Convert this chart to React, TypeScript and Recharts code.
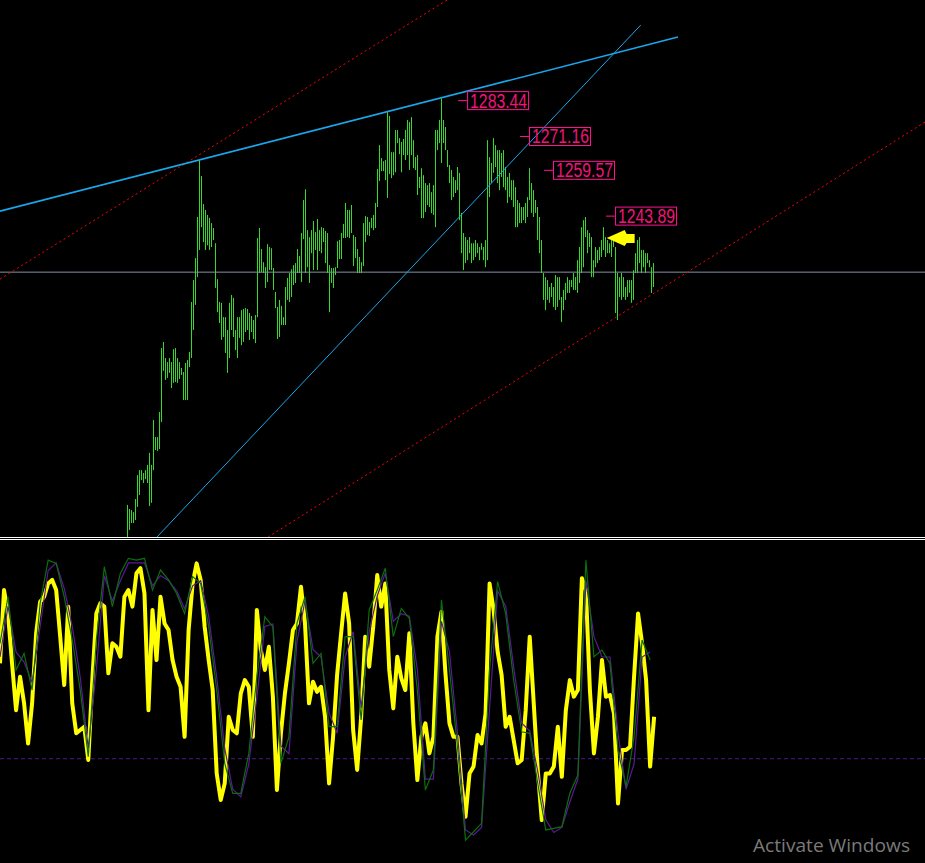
import React from 'react';
import {
  ComposedChart,
  Bar,
  Line,
  XAxis,
  YAxis,
  ReferenceLine,
  ReferenceDot,
} from 'recharts';

// bar slots across the window, one every ~2px
const SLOTS = 462;
const FIRST_BAR = 63;

// price bars (high / low), from slot 63 on
const HIGHS = [
  1145.0, 1143.6, 1143.2, 1142.5, 1147.0, 1155.2, 1156.9, 1156.9, 1155.9, 1156.9,
  1158.7, 1162.8, 1158.7, 1174.1, 1168.2, 1168.2, 1176.8, 1198.7, 1200.8, 1195.3,
  1193.9, 1195.3, 1193.9, 1198.3, 1198.7, 1195.3, 1193.9, 1191.9, 1190.5, 1193.6,
  1194.6, 1197.4, 1214.5, 1222.0, 1229.5, 1243.6, 1263.1, 1257.6, 1248.0, 1246.0,
  1244.3, 1243.3, 1241.5, 1239.8, 1234.6, 1222.3, 1214.5, 1214.2, 1209.3, 1209.3,
  1204.9, 1214.2, 1216.9, 1215.9, 1204.9, 1209.3, 1209.3, 1211.7, 1212.1, 1212.4,
  1212.1, 1210.7, 1209.7, 1208.3, 1210.0, 1236.4, 1239.8, 1232.6, 1228.1, 1226.4,
  1234.3, 1233.3, 1232.9, 1226.1, 1217.9, 1212.8, 1215.2, 1213.1, 1209.3, 1219.6,
  1222.7, 1224.4, 1225.7, 1227.1, 1227.8, 1232.6, 1230.2, 1238.1, 1249.4, 1253.1,
  1239.1, 1236.7, 1239.1, 1242.2, 1238.4, 1242.9, 1239.1, 1240.1, 1239.8, 1238.8,
  1238.1, 1227.1, 1226.1, 1226.1, 1226.4, 1235.3, 1235.7, 1238.1, 1241.2, 1248.4,
  1246.0, 1246.0, 1247.7, 1237.4, 1236.7, 1232.6, 1229.9, 1228.1, 1241.5, 1243.9,
  1243.6, 1241.9, 1243.3, 1244.3, 1248.4, 1260.0, 1268.2, 1263.8, 1262.7, 1263.1,
  1279.5, 1278.2, 1265.8, 1265.8, 1273.4, 1273.4, 1270.6, 1269.3, 1270.3, 1273.4,
  1276.8, 1276.1, 1277.8, 1269.9, 1264.1, 1264.8, 1257.3, 1260.3, 1257.9, 1255.2,
  1254.5, 1255.2, 1252.1, 1254.5, 1273.4, 1273.4, 1276.8, 1284.2, 1276.8, 1274.4,
  1266.5, 1261.4, 1259.7, 1257.3, 1256.2, 1260.7, 1258.7, 1245.0, 1238.1, 1236.7,
  1235.7, 1236.7, 1234.6, 1234.6, 1235.7, 1234.6, 1233.3, 1234.6, 1233.3, 1235.7,
  1269.9, 1264.1, 1262.1, 1270.6, 1268.2, 1266.5, 1266.5, 1265.5, 1266.5, 1260.7,
  1257.3, 1258.7, 1256.2, 1256.2, 1253.8, 1249.4, 1248.4, 1247.0, 1247.0, 1248.4,
  1250.4, 1260.3, 1255.2, 1252.8, 1249.4, 1247.0, 1243.6, 1235.7, 1224.4, 1223.0,
  1222.0, 1219.6, 1221.0, 1219.6, 1223.7, 1223.0, 1223.0, 1216.2, 1218.6, 1221.0,
  1223.0, 1222.0, 1222.0, 1224.4, 1223.0, 1228.8, 1233.3, 1240.1, 1242.5, 1243.6,
  1239.1, 1238.1, 1236.7, 1228.8, 1233.3, 1232.3, 1233.3, 1235.7, 1240.1, 1236.7,
  1235.7, 1234.6, 1235.7, 1236.7, 1233.3, 1224.4, 1223.0, 1224.4, 1223.0, 1219.6,
  1222.0, 1222.0, 1222.0, 1225.4, 1231.2, 1235.7, 1236.7, 1232.3, 1232.3, 1231.2,
  1231.2, 1228.8, 1226.4, 1227.8,
];

const LOWS = [
  1131.3, 1136.4, 1138.8, 1138.8, 1139.8, 1144.3, 1148.4, 1153.5, 1152.5, 1153.8,
  1152.5, 1144.6, 1145.7, 1156.9, 1163.8, 1163.5, 1164.1, 1173.4, 1190.9, 1187.8,
  1188.5, 1190.2, 1185.0, 1186.8, 1187.1, 1186.8, 1188.1, 1189.5, 1180.9, 1180.9,
  1180.9, 1192.2, 1195.3, 1204.9, 1213.5, 1223.0, 1232.3, 1240.1, 1235.0, 1232.3,
  1233.9, 1232.3, 1233.3, 1235.7, 1219.3, 1211.0, 1207.3, 1201.5, 1202.5, 1197.0,
  1190.2, 1195.3, 1204.9, 1202.5, 1198.0, 1195.3, 1202.2, 1199.7, 1200.8, 1204.2,
  1204.9, 1201.5, 1204.2, 1201.8, 1200.4, 1209.3, 1224.4, 1224.7, 1224.4, 1219.3,
  1221.3, 1225.4, 1225.4, 1218.6, 1212.4, 1201.8, 1202.5, 1206.6, 1206.6, 1206.6,
  1215.2, 1214.5, 1216.2, 1220.3, 1221.0, 1224.4, 1224.4, 1221.3, 1236.0, 1224.4,
  1226.4, 1221.0, 1231.2, 1225.4, 1232.3, 1225.4, 1231.9, 1231.2, 1235.0, 1227.8,
  1224.4, 1211.0, 1221.0, 1219.3, 1223.7, 1226.1, 1229.2, 1229.2, 1236.4, 1236.4,
  1236.7, 1236.4, 1238.1, 1226.8, 1229.5, 1224.4, 1224.4, 1224.4, 1226.8, 1235.0,
  1237.4, 1237.1, 1239.8, 1239.1, 1239.8, 1247.0, 1255.9, 1259.3, 1259.3, 1256.2,
  1250.1, 1258.3, 1256.9, 1257.9, 1258.9, 1268.9, 1265.1, 1258.9, 1264.8, 1263.1,
  1264.8, 1259.7, 1264.8, 1260.3, 1259.7, 1251.1, 1253.5, 1243.2, 1243.2, 1245.3,
  1247.7, 1247.0, 1244.9, 1244.3, 1240.1, 1266.5, 1268.9, 1262.1, 1268.9, 1266.5,
  1260.7, 1255.2, 1249.4, 1250.4, 1251.8, 1252.8, 1242.5, 1231.2, 1225.4, 1227.8,
  1228.8, 1231.2, 1227.8, 1228.8, 1229.9, 1231.2, 1228.8, 1232.3, 1228.8, 1226.4,
  1228.8, 1250.4, 1255.2, 1258.7, 1260.7, 1255.2, 1252.8, 1257.3, 1253.8, 1252.8,
  1248.4, 1250.4, 1249.4, 1247.0, 1240.1, 1240.1, 1241.5, 1241.5, 1242.5, 1241.5,
  1243.6, 1249.4, 1245.0, 1243.6, 1245.0, 1235.7, 1231.2, 1224.4, 1215.2, 1211.7,
  1215.2, 1214.2, 1216.2, 1212.8, 1211.7, 1212.8, 1215.2, 1207.6, 1211.7, 1215.2,
  1217.6, 1217.6, 1219.6, 1218.6, 1218.6, 1217.6, 1221.0, 1224.4, 1226.4, 1236.7,
  1231.2, 1233.3, 1223.0, 1223.0, 1226.4, 1227.8, 1228.8, 1229.9, 1232.3, 1229.9,
  1231.2, 1231.2, 1229.9, 1233.3, 1210.7, 1208.3, 1216.2, 1215.2, 1216.2, 1215.2,
  1216.2, 1217.6, 1214.2, 1215.2, 1224.4, 1224.4, 1227.8, 1224.4, 1226.4, 1224.4,
  1227.8, 1226.4, 1217.6, 1219.6,
];

// oscillator main line, one value every 2 slots
const OSC_MAIN = [
  57.5, 86.3, 77.1, 57.5, 39.1, 52.2, 41.8, 26.0, 41.8, 69.3,
  81.7, 83.7, 88.9, 90.3, 86.3, 68.0, 49.0, 79.8, 41.8, 30.0,
  31.3, 32.6, 19.5, 50.9, 77.1, 81.1, 79.8, 53.6, 65.4, 64.0,
  60.1, 83.7, 86.3, 79.8, 92.9, 94.9, 85.0, 39.1, 78.5, 58.8,
  83.7, 73.2, 70.6, 58.8, 52.2, 48.3, 28.6, 70.6, 88.9, 96.8,
  90.3, 71.9, 58.8, 47.0, 14.2, 3.8, 10.3, 36.5, 31.3, 30.0,
  45.7, 50.9, 48.3, 28.6, 78.5, 62.7, 54.9, 64.0, 44.4, 7.7,
  30.0, 45.7, 57.5, 70.6, 73.2, 87.6, 73.2, 41.8, 50.3, 46.3,
  48.3, 36.5, 10.3, 28.6, 52.9, 69.3, 85.0, 73.2, 31.3, 15.6,
  36.5, 68.0, 56.2, 71.9, 92.2, 79.8, 88.9, 54.9, 39.8, 60.1,
  51.6, 47.0, 69.3, 33.9, 11.6, 28.6, 33.9, 22.1, 28.6, 68.0,
  77.8, 53.6, 33.9, 28.6, 28.6, 10.3, -2.8, 14.2, 16.9, 29.3,
  26.0, 37.8, 88.9, 78.5, 62.1, 52.9, 32.6, 36.5, 27.3, 18.2,
  19.5, 39.1, 68.0, 41.8, 15.6, -4.1, 14.2, 14.2, 16.9, 32.6,
  12.9, 39.1, 50.9, 44.4, 47.0, 91.0, 86.3, 47.0, 22.1, 36.5,
  58.8, 44.4, 45.0, 37.8, 2.4, 23.4, 23.4, 24.7, 52.2, 77.1,
  65.4, 50.9, 16.9, 36.5,
];

// signal lines, one value every 4 slots
const OSC_FAST = [
  65.3, 83.7, 54.9, 61.4, 47.0, 81.1, 98.1, 96.8, 83.7, 66.7,
  47.0, 20.8, 66.7, 95.5, 79.8, 92.9, 98.8, 98.1, 98.8, 86.3,
  94.2, 90.3, 85.0, 77.1, 91.6, 88.9, 71.9, 47.0, 18.2, 6.4,
  6.4, 22.1, 52.2, 75.8, 71.9, 18.2, 28.6, 73.2, 83.7, 57.5,
  61.4, 32.6, 32.6, 68.0, 68.0, 35.2, 78.5, 86.3, 94.9, 68.0,
  79.1, 75.2, 47.0, 7.7, 15.6, 82.4, 54.9, 24.7, -12.0, -8.7,
  -5.4, 54.9, 89.6, 77.1, 50.9, 30.6, 30.0, 10.3, -8.0, -7.4,
  -6.7, 6.4, 13.6, 98.0, 60.1, 62.7, 57.5, 23.4, 9.0, 28.6,
  66.7, 58.8,
];

const OSC_SLOW = [
  60, 80, 62, 58, 50, 72, 94, 97, 87, 72,
  52, 24, 55, 92, 82, 90, 97, 97, 97, 88,
  92, 90, 86, 79, 88, 90, 76, 52, 24, 8,
  5, 18, 44, 72, 73, 25, 22, 66, 82, 63,
  60, 38, 30, 60, 70, 40, 70, 84, 93, 74,
  77, 76, 55, 12, 12, 74, 62, 30, -8, -10,
  -7, 40, 86, 80, 56, 34, 31, 15, -4, -9,
  -7, 3, 12, 90, 68, 60, 60, 30, 8, 18,
  60, 62,
];

// trend lines: [slot, price] pairs
const UPPER_TREND = [[-0.5, 1245.6], [338.1, 1305.2]];
const STEEP_TREND = [[77.9, 1134.0], [319.5, 1309.3]];
const CHANNEL_TOP = [[-0.5, 1222.3], [222.8, 1317.9]];
const CHANNEL_BOTTOM = [[133.4, 1134.0], [461.5, 1276.1]];
const PIVOT_PRICE = 1224.7;

const TAG_PRICES = [1283.44, 1271.16, 1259.57, 1243.89];
const TAG_SLOTS = [228.3, 259.2, 271.2, 302.2];
const ARROW_AT = [302.5, 1236.4];

const OSC_LEVEL = 20;

const BAR_GREEN = '#36D82C';
const TREND_BLUE = '#1AA7EC';
const TAG_PINK = '#FF1493';

const rows = Array.from({ length: SLOTS }, (_, n) => {
  const b = n - FIRST_BAR;
  return {
    n,
    range: b >= 0 && b < HIGHS.length ? [LOWS[b], HIGHS[b]] : null,
    main: n % 2 === 0 && OSC_MAIN[n / 2] !== undefined ? OSC_MAIN[n / 2] : null,
    fast: n % 4 === 0 && OSC_FAST[n / 4] !== undefined ? OSC_FAST[n / 4] : null,
    slow: n % 4 === 0 && OSC_SLOW[n / 4] !== undefined ? OSC_SLOW[n / 4] : null,
  };
});

const Stick = (p: any) => {
  if (!p.payload || !p.payload.range) return null;
  const top = Math.min(p.y, p.y + p.height);
  const h = Math.max(Math.abs(p.height), 1);
  return <rect x={Math.floor(p.x + p.width / 2)} y={top} width={1} height={h} fill={BAR_GREEN} />;
};

const priceTag = (label: string) => (p: any) => (
  <g>
    <line x1={p.cx} x2={p.cx + 9} y1={p.cy} y2={p.cy} stroke={TAG_PINK} strokeWidth={1} />
    <rect x={p.cx + 9.5} y={p.cy - 9} width={61} height={18} fill="none" stroke={TAG_PINK} strokeWidth={1} />
    <text
      x={p.cx + 12}
      y={p.cy + 7}
      fontSize={19.5}
      fontFamily="'Liberation Sans', Arial, sans-serif"
      textLength={57}
      lengthAdjust="spacingAndGlyphs"
      fill="#F0147A"
    >
      {label}
    </text>
  </g>
);

const YellowArrow = (p: any) => {
  const pts = [[0, 0], [18, -8], [20, -4], [28, -4], [28, 5], [20, 5], [18, 8]]
    .map(([dx, dy]) => `${p.cx + dx},${p.cy + dy}`)
    .join(' ');
  return <polygon points={pts} fill="#FFFF00" />;
};

const seg = (pair: number[][]) => pair.map(([x, y]) => ({ x, y }));

export default function App() {
  return (
    <div style={{ position: 'fixed', left: 0, top: 0, width: 925, height: 863, background: '#000', overflow: 'hidden' }}>
      <div style={{ position: 'absolute', left: 0, top: 0 }}>
        <ComposedChart width={925} height={537} data={rows} margin={{ top: 0, right: 0, bottom: 0, left: 0 }}>
          <XAxis dataKey="n" type="category" hide />
          <XAxis xAxisId="num" dataKey="n" type="number" domain={[-0.5, 461.5]} allowDataOverflow hide />
          <YAxis domain={[1134.0, 1317.9]} allowDataOverflow hide />
          <Bar dataKey="range" shape={Stick} isAnimationActive={false} />
          <ReferenceLine y={PIVOT_PRICE} stroke="#8193A5" strokeWidth={1} />
          <ReferenceLine xAxisId="num" segment={seg(CHANNEL_TOP)} stroke="#FF0000" strokeDasharray="2 3" ifOverflow="hidden" />
          <ReferenceLine xAxisId="num" segment={seg(CHANNEL_BOTTOM)} stroke="#FF0000" strokeDasharray="2 3" ifOverflow="hidden" />
          <ReferenceLine xAxisId="num" segment={seg(UPPER_TREND)} stroke={TREND_BLUE} strokeWidth={1.6} ifOverflow="hidden" />
          <ReferenceLine xAxisId="num" segment={seg(STEEP_TREND)} stroke={TREND_BLUE} strokeWidth={1} ifOverflow="hidden" />
          {TAG_PRICES.map((price, i) => (
            <ReferenceDot
              key={price}
              xAxisId="num"
              x={TAG_SLOTS[i]}
              y={price}
              shape={priceTag(price.toFixed(2))}
            />
          ))}
          <ReferenceDot xAxisId="num" x={ARROW_AT[0]} y={ARROW_AT[1]} shape={YellowArrow} />
        </ComposedChart>
      </div>
      <div style={{ position: 'absolute', left: 0, top: 540 }}>
        <ComposedChart width={925} height={323} data={rows} margin={{ top: 0, right: 0, bottom: 0, left: 0 }}>
          <XAxis dataKey="n" type="category" hide />
          <YAxis domain={[-21, 106]} allowDataOverflow hide />
          <ReferenceLine y={OSC_LEVEL} stroke="#4B1A8A" strokeDasharray="4 3" />
          <Line dataKey="main" stroke="#FFFF00" strokeWidth={4} strokeLinejoin="round" dot={false} connectNulls isAnimationActive={false} />
          <Line dataKey="slow" stroke="#5A189A" strokeWidth={1.2} dot={false} connectNulls isAnimationActive={false} />
          <Line dataKey="fast" stroke="#0B6E0B" strokeWidth={1.2} dot={false} connectNulls isAnimationActive={false} />
        </ComposedChart>
      </div>
      <svg width={925} height={863} style={{ position: 'absolute', left: 0, top: 0, pointerEvents: 'none' }}>
        <line x1={0} x2={925} y1={537.5} y2={537.5} stroke="#FFFFFF" strokeWidth={1} />
        <line x1={0} x2={925} y1={539.5} y2={539.5} stroke="#FFFFFF" strokeWidth={1} />
        <text x={753} y={852} fontSize={19} fontFamily="'Open Sans', 'Noto Sans', sans-serif" fill="#7A7A7A" textLength={157} lengthAdjust="spacingAndGlyphs">
          Activate Windows
        </text>
      </svg>
    </div>
  );
}
